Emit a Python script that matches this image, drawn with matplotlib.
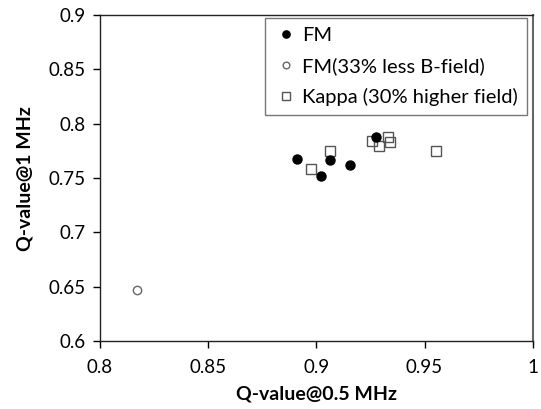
import matplotlib
matplotlib.use("Agg")
import matplotlib.pyplot as plt

fm_x = [0.891, 0.902, 0.9064, 0.9157, 0.9275]
fm_y = [0.7675, 0.7521, 0.7666, 0.762, 0.788]
fm33_x = [0.8172]
fm33_y = [0.647]
kappa_x = [0.9064, 0.8976, 0.9256, 0.929, 0.933, 0.934, 0.9553]
kappa_y = [0.7748, 0.758, 0.784, 0.7795, 0.7874, 0.7834, 0.7751]

xticks = [0.8, 0.85, 0.9, 0.95, 1.0]
xticklabels = ["0.8", "0.85", "0.9", "0.95", "1"]
yticks = [0.6, 0.65, 0.7, 0.75, 0.8, 0.85, 0.9]
yticklabels = ["0.6", "0.65", "0.7", "0.75", "0.8", "0.85", "0.9"]

plt.rcParams['font.family'] = ['Lato', 'DejaVu Sans']

fig = plt.figure(figsize=(5.41, 4.09), dpi=100)
ax = fig.add_axes([0.184, 0.166, 0.801, 0.797])

ax.plot(fm_x, fm_y, 'o', color='black', markersize=6.5, linestyle='none', label='FM', zorder=3)
ax.plot(fm33_x, fm33_y, 'o', markerfacecolor='white', markeredgecolor='#666666', markersize=6,
        markeredgewidth=1.0, linestyle='none', label='FM(33% less B-field)', zorder=3)
ax.plot(kappa_x, kappa_y, 's', markerfacecolor='none', markeredgecolor='#555555', markersize=7,
        markeredgewidth=1.0, linestyle='none', label='Kappa (30% higher field)', zorder=2)

ax.set_xlim(0.8, 1.0)
ax.set_ylim(0.6, 0.9)
ax.set_xticks(xticks)
ax.set_xticklabels(xticklabels)
ax.set_yticks(yticks)
ax.set_yticklabels(yticklabels)
ax.tick_params(direction='out', length=5, width=1, labelsize=13.5, color='black', pad=5)
ax.tick_params(axis='x', pad=8)
for s in ['left', 'bottom', 'top']:
    ax.spines[s].set_color('#222222')
    ax.spines[s].set_linewidth(1.0)
ax.spines['right'].set_color('#666666')
ax.spines['right'].set_linewidth(1.5)

ax.set_xlabel('Q-value@0.5 MHz', fontsize=14, fontweight='bold', labelpad=7)
ax.set_ylabel('Q-value@1 MHz', fontsize=14, fontweight='bold', labelpad=11)

leg = ax.legend(loc='upper right', fontsize=14.5, frameon=True, fancybox=False,
                edgecolor='#555555', handletextpad=0.2, handlelength=1.2,
                borderpad=0.45, labelspacing=0.65, borderaxespad=0,
                bbox_to_anchor=(0.986, 0.991), markerscale=0.8)
leg.get_frame().set_linewidth(1.0)

fig.savefig('out.png', dpi=100)
